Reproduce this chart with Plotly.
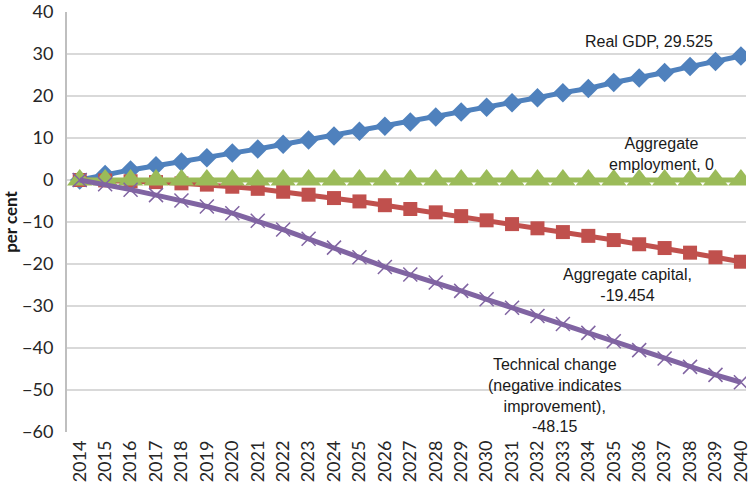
import plotly.graph_objects as go

years = list(range(2014, 2041))

real_gdp = [0, 1.3, 2.4, 3.4, 4.3, 5.3, 6.4, 7.4, 8.5, 9.5, 10.5, 11.6, 12.8, 13.8,
            15.0, 16.2, 17.3, 18.4, 19.6, 20.8, 21.8, 23.2, 24.3, 25.6, 27.0, 28.2, 29.525]
aggregate_capital = [0, -0.1, -0.3, -0.5, -0.8, -1.1, -1.6, -2.1, -2.8, -3.5, -4.3, -5.1,
                     -6.0, -6.9, -7.7, -8.6, -9.6, -10.5, -11.5, -12.4, -13.3, -14.3,
                     -15.3, -16.2, -17.3, -18.4, -19.454]
aggregate_employment = [0] * len(years)
technical_change = [0, -1.0, -2.3, -3.6, -4.9, -6.3, -7.9, -9.7, -11.8, -14.0, -16.1,
                    -18.4, -20.7, -22.5, -24.4, -26.4, -28.4, -30.4, -32.4, -34.3,
                    -36.4, -38.4, -40.5, -42.5, -44.5, -46.4, -48.15]

y_ticks = list(range(-60, 41, 10))

BLUE = "#4F81BD"
RED = "#C0504D"
GREEN = "#9BBB59"
PURPLE = "#8064A2"

fig = go.Figure()

fig.add_trace(go.Scatter(
    x=years, y=real_gdp, mode="lines+markers", name="Real GDP",
    line=dict(color=BLUE, width=5),
    marker=dict(symbol="diamond", size=15, color=BLUE),
))
fig.add_trace(go.Scatter(
    x=years, y=aggregate_capital, mode="lines+markers", name="Aggregate capital",
    line=dict(color=RED, width=5),
    marker=dict(symbol="square", size=14, color=RED),
))
fig.add_trace(go.Scatter(
    x=years, y=aggregate_employment, mode="lines+markers", name="Aggregate employment",
    line=dict(color=GREEN, width=5),
    marker=dict(symbol="triangle-up", size=22, color=GREEN),
))
fig.add_trace(go.Scatter(
    x=years, y=technical_change, mode="lines+markers", name="Technical change",
    line=dict(color=PURPLE, width=5),
    marker=dict(symbol="x-thin", size=14, line=dict(color=PURPLE, width=1.5)),
))

label_font = dict(family="Liberation Sans, Arial, sans-serif", size=16, color="#1a1a1a")
labels = [
    (2036.4, 32.9, f"Real GDP, {real_gdp[-1]:g}"),
    (2036.86, 6.1, f"Aggregate<br>employment, {aggregate_employment[-1]:g}"),
    (2035.53, -25.0, f"Aggregate capital,<br>{aggregate_capital[-1]:g}"),
    (2032.68, -51.4, f"Technical change<br>(negative indicates<br>improvement),<br>{technical_change[-1]:g}"),
]
for lx, ly, txt in labels:
    fig.add_annotation(x=lx, y=ly, text=txt, showarrow=False, xref="x", yref="y",
                       font=label_font, align="center")

axis_font = dict(family="Lato, Open Sans, sans-serif", size=18, color="#262626")

fig.update_layout(
    width=751, height=482,
    margin=dict(l=67, r=0, t=12, b=50),
    paper_bgcolor="white", plot_bgcolor="white",
    showlegend=False,
)
fig.update_xaxes(
    range=[2013.5, 2040.2],
    tickmode="array", tickvals=years, ticktext=[str(y) for y in years],
    tickangle=-90, tickfont=axis_font,
    showgrid=False, zeroline=False, showline=False, ticks="",
    ticklabelstandoff=4, ticklabeloverflow="allow",
)
fig.update_yaxes(
    range=[-60, 40],
    tickmode="array", tickvals=y_ticks,
    tickfont=axis_font,
    showgrid=True, gridcolor="#D9D9D9", gridwidth=1.5,
    zeroline=False,
    showline=True, linecolor="#BFBFBF", linewidth=2,
    ticks="", ticklabelstandoff=8,
    title=dict(text="<b>per cent</b>", font=dict(family="Lato, Open Sans, sans-serif",
                                                 size=17, color="#1a1a1a"), standoff=6),
)

fig.write_html("out.html")
